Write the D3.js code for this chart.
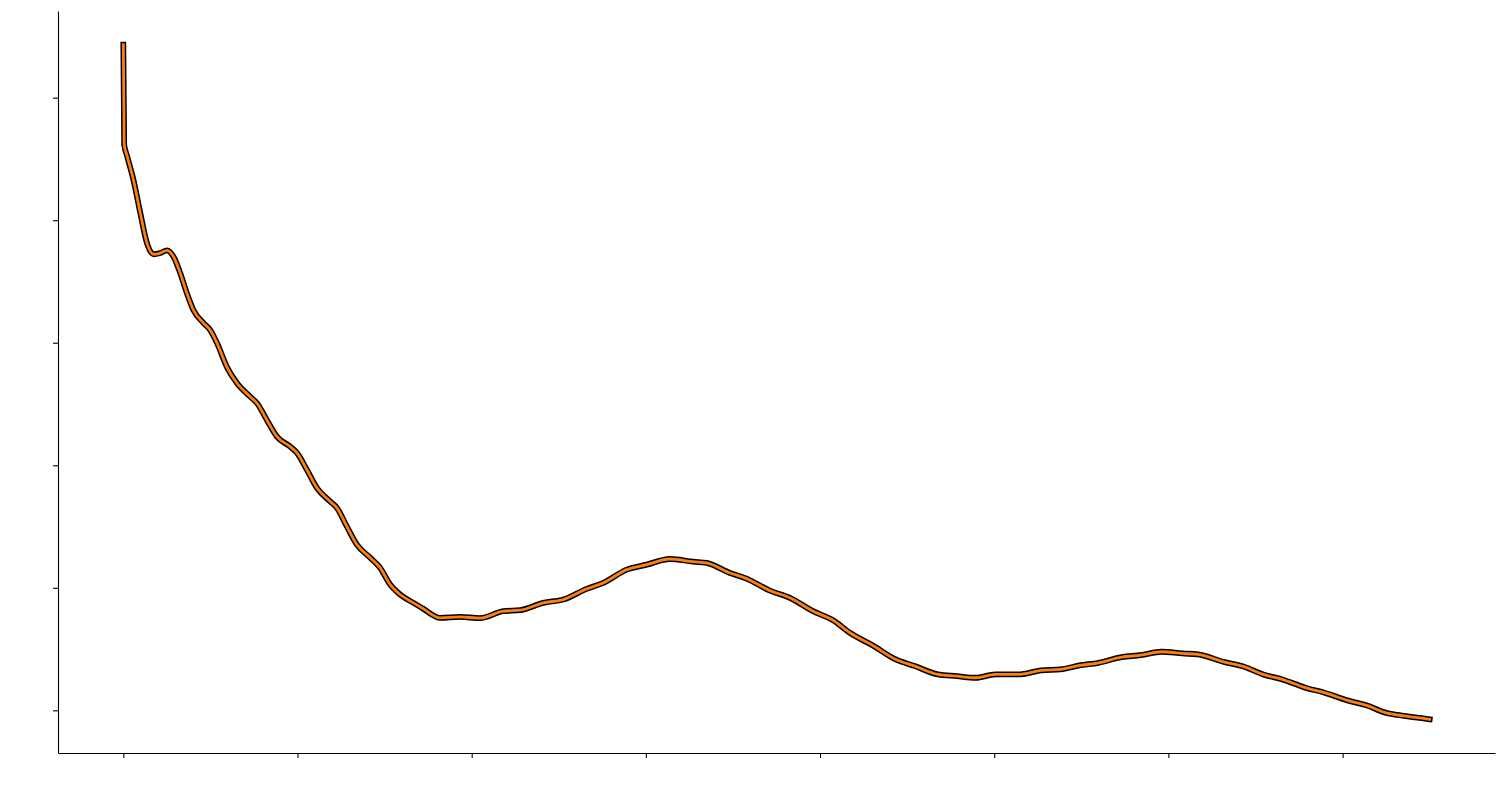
<!DOCTYPE html>
<html>
<head>
<meta charset="utf-8">
<script src="https://cdn.jsdelivr.net/npm/d3@7"></script>
<style>
  html, body { margin: 0; padding: 0; background: #fff; }
  svg { display: block; }
</style>
</head>
<body>
<svg id="chart" width="1508" height="786"></svg>
<script>
// ---- data ----
const xValues = [0, 0.005, 0.021, 0.059, 0.098, 0.136, 0.174, 0.212, 0.251, 0.289, 0.327, 0.365, 0.403, 0.461, 0.499, 0.538, 0.595, 0.652, 0.729, 0.767, 0.824, 0.882, 0.958, 0.997, 1.054, 1.111, 1.188, 1.226, 1.283, 1.341, 1.417, 1.474, 1.532, 1.589, 1.666, 1.723, 1.819, 1.933, 2.048, 2.182, 2.278, 2.411, 2.526, 2.660, 2.756, 2.890, 3.005, 3.138, 3.272, 3.349, 3.483, 3.578, 3.712, 3.827, 3.960, 4.075, 4.171, 4.303, 4.435, 4.544, 4.676, 4.785, 4.894, 5.006, 5.138, 5.270, 5.380, 5.489, 5.600, 5.731, 5.841, 5.961, 6.081, 6.170, 6.322, 6.434, 6.544, 6.654, 6.786, 6.896, 7.028, 7.137, 7.246, 7.355, 7.5];
const yValues = [5.432, 4.617, 4.528, 4.324, 4.055, 3.811, 3.722, 3.732, 3.754, 3.700, 3.567, 3.404, 3.265, 3.160, 3.103, 2.997, 2.801, 2.671, 2.559, 2.508, 2.370, 2.234, 2.152, 2.101, 1.963, 1.816, 1.704, 1.653, 1.501, 1.352, 1.246, 1.164, 1.026, 0.945, 0.877, 0.828, 0.755, 0.763, 0.752, 0.809, 0.817, 0.877, 0.904, 0.991, 1.040, 1.148, 1.189, 1.235, 1.213, 1.203, 1.121, 1.075, 0.977, 0.918, 0.809, 0.735, 0.633, 0.529, 0.415, 0.361, 0.293, 0.279, 0.266, 0.293, 0.293, 0.326, 0.334, 0.366, 0.388, 0.434, 0.450, 0.478, 0.464, 0.456, 0.393, 0.356, 0.293, 0.252, 0.185, 0.144, 0.081, 0.041, -0.019, -0.046, -0.073];
const xTicks = [0, 1, 2, 3, 4, 5, 6, 7];
const yTicks = [0, 1, 2, 3, 4, 5];

const points = xValues.map((x, i) => ({ x: x, y: yValues[i] }));

// ---- layout ----
const W = 1508, H = 786;
const margin = { top: 11, right: 13, bottom: 33, left: 58 };

const svg = d3.select("#chart");

function padded(ext) {
  const span = ext[1] - ext[0];
  return [ext[0] - 0.05 * span, ext[1] + 0.05 * span];
}

const x = d3.scaleLinear()
  .domain(padded(d3.extent(xValues)))
  .range([margin.left, W - margin.right]);
const y = d3.scaleLinear()
  .domain(padded(d3.extent(yValues)))
  .range([H - margin.bottom, margin.top]);

// axes (no labels, only left & bottom spines)
const xAxis = d3.axisBottom(x).tickValues(xTicks).tickFormat("").tickSizeInner(5).tickSizeOuter(0);
const yAxis = d3.axisLeft(y).tickValues(yTicks).tickFormat("").tickSizeInner(5).tickSizeOuter(0);

const gx = svg.append("g")
  .attr("transform", `translate(0,${H - margin.bottom})`)
  .call(xAxis);
const gy = svg.append("g")
  .attr("transform", `translate(${margin.left},0)`)
  .call(yAxis);

[gx, gy].forEach(g => {
  g.select(".domain").attr("stroke", "#000").attr("stroke-width", 1.1);
  g.selectAll(".tick line").attr("stroke", "#000").attr("stroke-width", 1.1);
});

const line = d3.line()
  .x(d => x(d.x))
  .y(d => y(d.y))
  .curve(d3.curveMonotoneX);

// outline stroke then orange line
svg.append("path")
  .datum(points)
  .attr("d", line)
  .attr("fill", "none")
  .attr("stroke", "#000")
  .attr("stroke-width", 5.8)
  .attr("stroke-linecap", "square")
  .attr("stroke-linejoin", "round");

svg.append("path")
  .datum(points)
  .attr("d", line)
  .attr("fill", "none")
  .attr("stroke", "#ff7f0e")
  .attr("stroke-width", 2.8)
  .attr("stroke-linecap", "square")
  .attr("stroke-linejoin", "round");
</script>
</body>
</html>
